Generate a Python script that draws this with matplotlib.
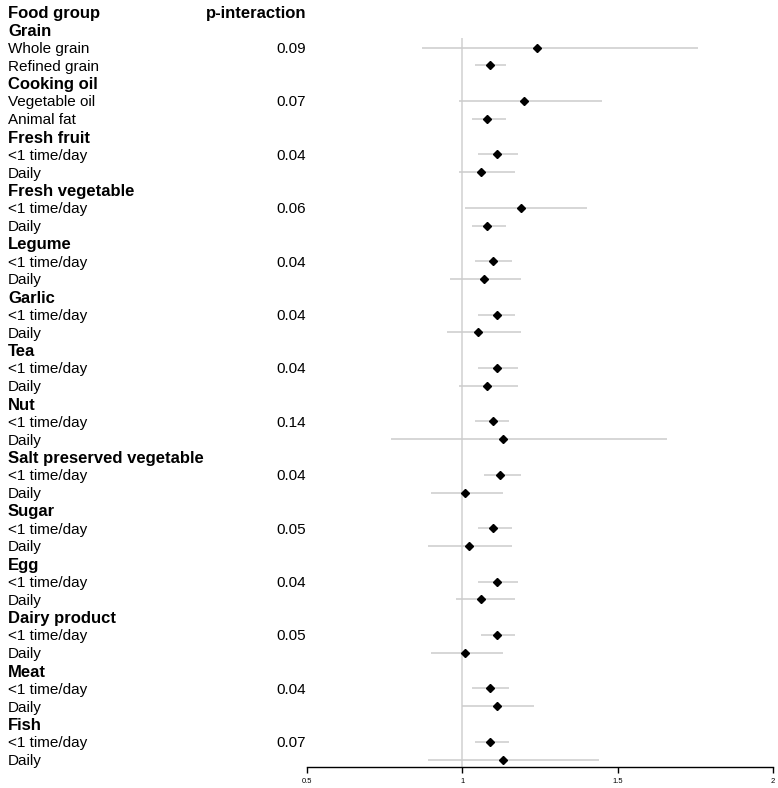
import matplotlib
matplotlib.use("Agg")
import matplotlib.pyplot as plt
from matplotlib.transforms import blended_transform_factory, ScaledTranslation

plt.rcParams['font.family'] = ['Liberation Sans', 'DejaVu Sans']

# food groups, level labels and interaction p values
groups = ["Grain", "Cooking oil", "Fresh fruit", "Fresh vegetable", "Legume",
          "Garlic", "Tea", "Nut", "Salt preserved vegetable", "Sugar", "Egg",
          "Dairy product", "Meat", "Fish"]
levels = [["Whole grain", "Refined grain"], ["Vegetable oil", "Animal fat"]] + \
         [["<1 time/day", "Daily"]] * 12
p_int = ["0.09", "0.07", "0.04", "0.06", "0.04", "0.04", "0.04", "0.14",
         "0.04", "0.05", "0.04", "0.05", "0.04", "0.07"]

# estimates and confidence limits, two per group
est = [1.24, 1.09, 1.20, 1.08, 1.11, 1.06, 1.19, 1.08, 1.10, 1.07,
       1.11, 1.05, 1.11, 1.08, 1.10, 1.13, 1.12, 1.01, 1.10, 1.02,
       1.11, 1.06, 1.11, 1.01, 1.09, 1.11, 1.09, 1.13]
lower = [0.87, 1.04, 0.99, 1.03, 1.05, 0.99, 1.01, 1.03, 1.04, 0.96,
         1.05, 0.95, 1.05, 0.99, 1.04, 0.77, 1.07, 0.90, 1.05, 0.89,
         1.05, 0.98, 1.06, 0.90, 1.03, 1.00, 1.04, 0.89]
upper = [1.76, 1.14, 1.45, 1.14, 1.18, 1.17, 1.40, 1.14, 1.16, 1.19,
         1.17, 1.19, 1.18, 1.18, 1.15, 1.66, 1.19, 1.13, 1.16, 1.16,
         1.18, 1.17, 1.17, 1.13, 1.15, 1.23, 1.15, 1.44]

xticks = [0.5, 1, 1.5, 2]
xticklabels = ["0.5", "1", "1.5", "2"]

W, H = 778, 788
fig = plt.figure(figsize=(W / 100, H / 100), dpi=100)
row_h = 17.8
y0 = 12
bottom_px = 767
ax = fig.add_axes([307 / W, 1 - bottom_px / H, (773 - 307) / W, bottom_px / H])
ax.set_xlim(0.5, 2)
ax.set_ylim((bottom_px - y0) / row_h, -y0 / row_h)

# text column: x in figure coords, y in row units, nudged down a little
tr = blended_transform_factory(fig.transFigure, ax.transData) + \
    ScaledTranslation(0, -1.5 / 100, fig.dpi_scale_trans)
xl = 8 / W
xp = 306 / W
fs_b = 12
fs = 11

ax.text(xl, 0, "Food group", transform=tr, fontsize=fs_b, fontweight="bold", va="center")
ax.text(xp, 0, "p-interaction", transform=tr, fontsize=fs_b, fontweight="bold",
        va="center", ha="right")

ax.vlines(1, 1.45, (bottom_px - y0) / row_h, color="#d4d4d4", lw=1.2, zorder=1)

row = 1
k = 0
for g, lv, p in zip(groups, levels, p_int):
    ax.text(xl, row, g, transform=tr, fontsize=fs_b, fontweight="bold", va="center")
    row += 1
    for j, name in enumerate(lv):
        ax.text(xl, row, name, transform=tr, fontsize=fs, va="center")
        if j == 0:
            ax.text(xp, row, p, transform=tr, fontsize=fs, va="center", ha="right")
        ax.hlines(row, lower[k], upper[k], color="#cccccc", lw=1.1, zorder=2)
        ax.plot(est[k], row, marker="D", color="black", ms=4.5, zorder=3)
        row += 1
        k += 1

for s in ["top", "right", "left"]:
    ax.spines[s].set_visible(False)
ax.spines["bottom"].set_linewidth(1.0)
ax.set_yticks([])
ax.set_xticks(xticks)
ax.set_xticklabels(xticklabels, fontsize=5.5)
ax.tick_params(axis="x", direction="out", length=4, width=1, pad=4)
ax.patch.set_alpha(0)

fig.savefig("out.png", dpi=100)
